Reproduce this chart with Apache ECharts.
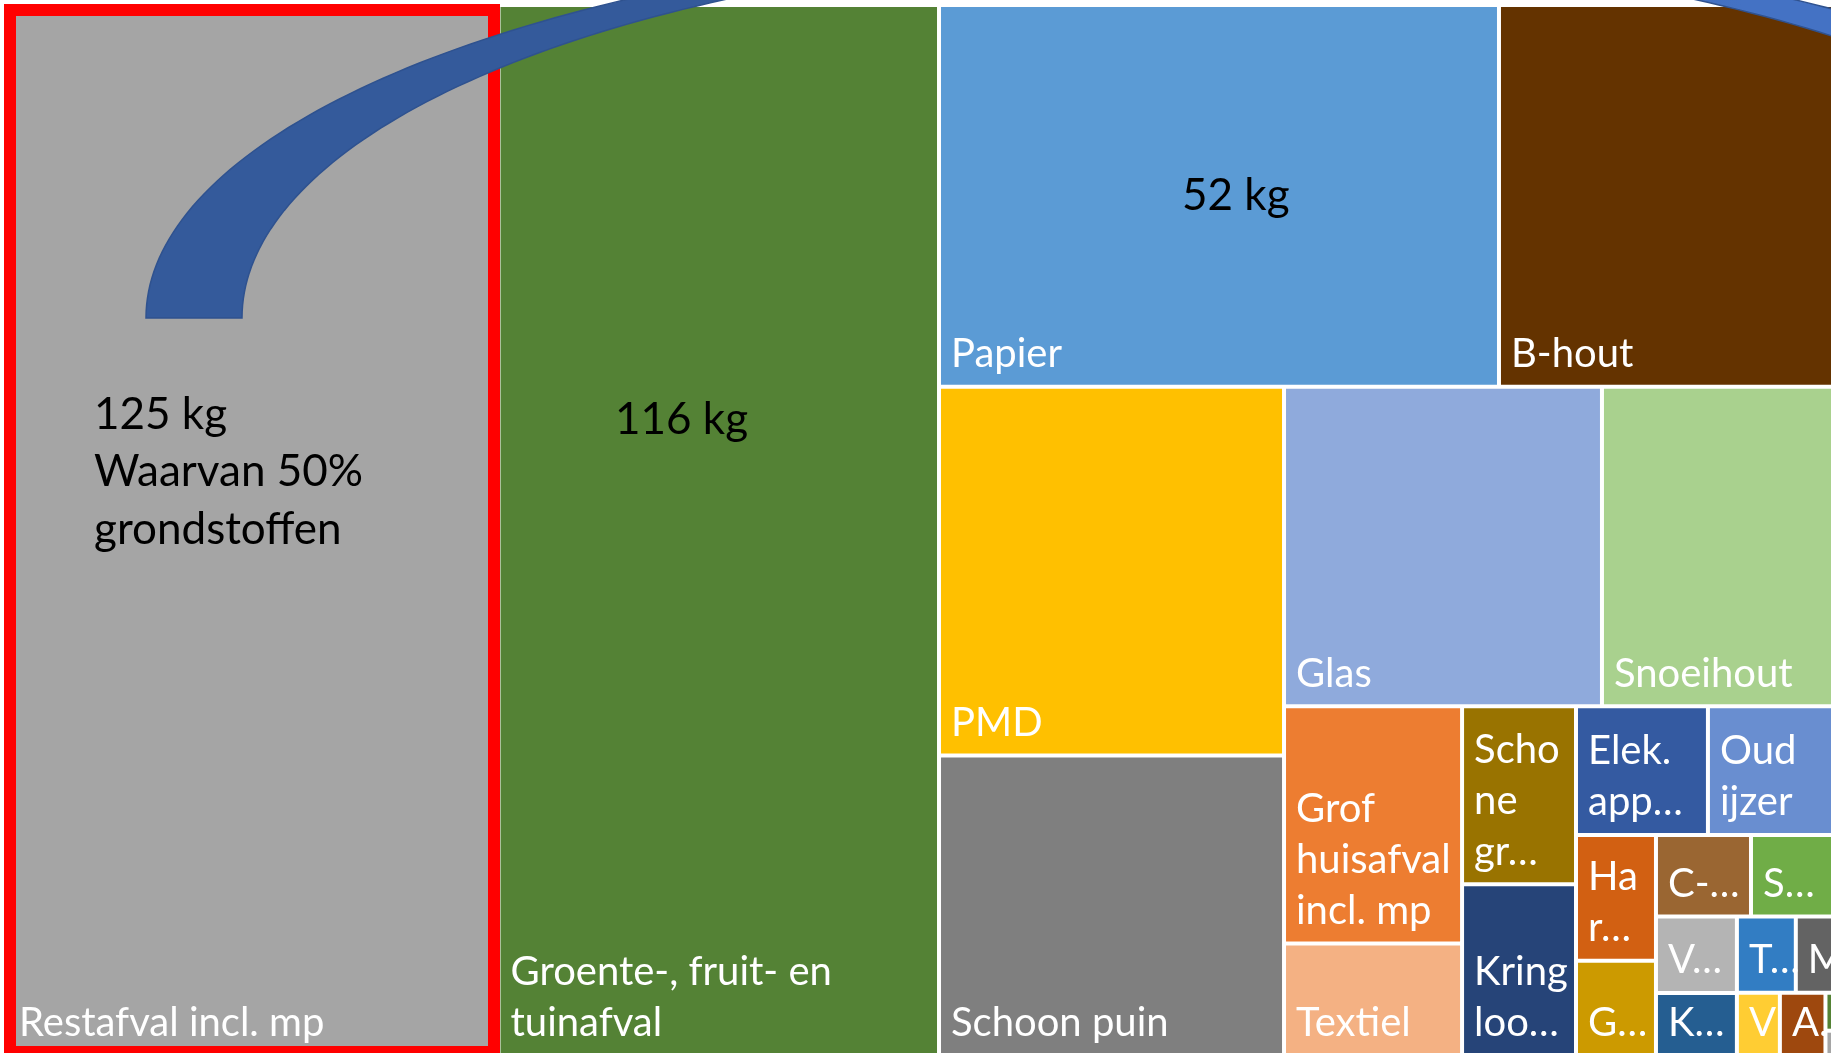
<!DOCTYPE html>
<html>
<head>
<meta charset="utf-8">
<script src="https://cdn.jsdelivr.net/npm/echarts@6.0.0/dist/echarts.min.js"></script>
<style>
  html, body { margin: 0; padding: 0; background: #fff; }
  #main { width: 1831px; height: 1053px; }
</style>
</head>
<body>
<div id="main"></div>
<script>
// afvalstromen (kg per inwoner), volgorde zoals in de treemap
var names = [
  "Restafval incl. mp", "Groente-, fruit- en\ntuinafval", "Papier", "B-hout",
  "PMD", "Schoon puin", "Glas", "Snoeihout",
  "Grof\nhuisafval\nincl. mp", "Textiel", "Scho\nne\ngr…", "Kring\nloo…",
  "Elek.\napp…", "Oud\nijzer", "Ha\nr…", "G…",
  "C-…", "S…", "V…", "K…",
  "T…", "M", "V", "A…", "", ""
];
var values = [
  125.39, 112.38, 51.90, 32.07,
  30.88, 25.16, 24.66, 18.85,
  10.25, 4.86, 4.92, 4.75,
  4.12, 4.28, 2.44, 1.85,
  1.88, 1.86, 1.50, 1.24,
  1.09, 0.91, 0.66, 0.70, 0.18, 0.12
];
var colors = [
  "#A5A5A5", "#548235", "#5B9BD5", "#643300",
  "#FFC000", "#7F7F7F", "#8FAADC", "#A9D18E",
  "#ED7D31", "#F4B183", "#997300", "#264478",
  "#345AA1", "#698ED0", "#D26012", "#CC9A00",
  "#9A6632", "#70AD47", "#B4B4B4", "#255E91",
  "#327DC3", "#636363", "#FFCD33", "#9E480E", "#548235", "#A5A5A5"
];
// tekstvakken op de dia
var noteRest = "125 kg\nWaarvan 50%\ngrondstoffen";
var noteGft = "116 kg";
var notePapier = "52 kg";

var chartDom = echarts.init(document.getElementById("main"));

var treeData = names.map(function (n, i) {
  return { name: n, value: values[i], itemStyle: { color: colors[i] } };
});

// gebogen pijl (bovenste helft van twee ellipsen)
var arcPoints = [];
var cx = 1210, cy = 318;
for (var t = 180; t >= 0; t--) {
  var r = t * Math.PI / 180;
  arcPoints.push([cx + 1064 * Math.cos(r), cy - 381 * Math.sin(r)]);
}
for (var t2 = 0; t2 <= 180; t2++) {
  var r2 = t2 * Math.PI / 180;
  arcPoints.push([cx + 968 * Math.cos(r2), cy - 368 * Math.sin(r2)]);
}

var option = {
  animation: false,
  backgroundColor: "#fff",
  series: [
    {
      type: "treemap",
      left: 7,
      top: 5,
      width: 1838,
      height: 1051,
      sort: false,
      squareRatio: 0.84,
      roam: false,
      nodeClick: false,
      silent: true,
      visibleMin: 0,
      breadcrumb: { show: false },
      label: {
        show: true,
        position: "insideBottomLeft",
        padding: [0, 0, 5, 10],
        color: "#fff",
        fontFamily: "Lato",
        fontSize: 40,
        lineHeight: 51,
        overflow: "none",
      },
      levels: [
        { itemStyle: { borderWidth: 0, gapWidth: 0 } },
        { itemStyle: { borderWidth: 2, borderColor: "#fff", gapWidth: 0 } },
      ],
      data: treeData,
    },
  ],
  graphic: [
    {
      type: "rect",
      z: 50,
      shape: { x: 10, y: 10, width: 484, height: 1042 },
      style: { fill: "none", stroke: "#FF0000", lineWidth: 12 },
    },
    {
      type: "polygon",
      z: 60,
      shape: { points: arcPoints },
      style: {
        fill: {
          type: "linear", x: 146, y: 0, x2: 2274, y2: 0, global: true,
          colorStops: [
            { offset: 0, color: "#345A9B" },
            { offset: 0.35, color: "#345A9B" },
            { offset: 0.75, color: "#4472C4" },
            { offset: 1, color: "#4472C4" },
          ],
        },
        stroke: "#2F528F",
        lineWidth: 1.5,
      },
    },
    {
      type: "text",
      z: 70,
      x: 94,
      y: 386,
      style: { text: noteRest, font: "44px Lato", fill: "#000", lineHeight: 57.5, verticalAlign: "top" },
    },
    {
      type: "text",
      z: 70,
      x: 615,
      y: 420,
      style: { text: noteGft, font: "44px Lato", fill: "#000", verticalAlign: "middle" },
    },
    {
      type: "text",
      z: 70,
      x: 1182,
      y: 196,
      style: { text: notePapier, font: "44px Lato", fill: "#000", verticalAlign: "middle" },
    },
  ],
};
chartDom.setOption(option);
</script>
</body>
</html>
